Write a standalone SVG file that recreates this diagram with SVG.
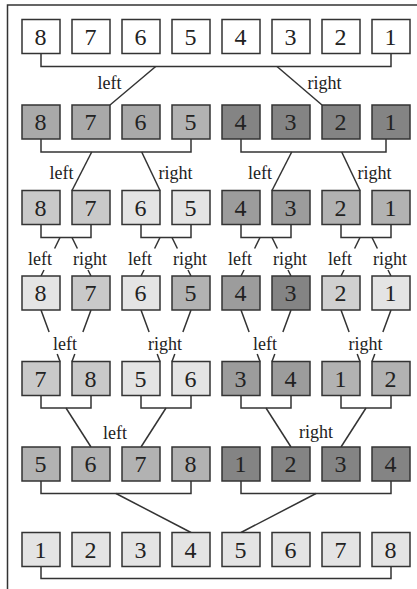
<svg xmlns="http://www.w3.org/2000/svg" width="417" height="589" viewBox="0 0 417 589">
<style>
rect{stroke:#333;stroke-width:1.5}
.w{fill:#ffffff}.a{fill:#a9a9a9}.b{fill:#b2b2b2}.d{fill:#848484}.c{fill:#c9c9c9}.l{fill:#e4e4e4}.m{fill:#9c9c9c}.k{fill:#d0d0d0}
.n{font-family:"Liberation Serif","Times New Roman",serif;font-size:24px;fill:#222;text-anchor:middle}
.t{font-family:"Liberation Serif","Times New Roman",serif;font-size:18px;fill:#222;text-anchor:middle}
#connectors path{fill:none;stroke:#333;stroke-width:1.5}
</style>
<path d="M7.5 589 V5 H417" fill="none" stroke="#333" stroke-width="1.5"/>
<g id="connectors">
<path d="M41 53.5 V66.5 H391 V53.5"/>
<path d="M155.7 66.5 L110 105"/>
<path d="M277 66.5 L322 105"/>
<path d="M41 139 V152 H191 V139"/>
<path d="M241 139 V152 H386 V139"/>
<path d="M91.7 152 L72 190.5"/>
<path d="M141.7 152 L160 190.5"/>
<path d="M291.7 152 L272 190.5"/>
<path d="M341.7 152 L360 190.5"/>
<path d="M41 224.5 V237.5 H91 V224.5"/>
<path d="M141 224.5 V237.5 H191 V224.5"/>
<path d="M241 224.5 V237.5 H291 V224.5"/>
<path d="M341 224.5 V237.5 H391 V224.5"/>
<path d="M60 237.5 L54.6 248.5 M44 270 L41 276"/>
<path d="M72 237.5 L77.4 248.5 M88 270 L91 276"/>
<path d="M160 237.5 L154.6 248.5 M144 270 L141 276"/>
<path d="M172 237.5 L177.4 248.5 M188 270 L191 276"/>
<path d="M260 237.5 L254.6 248.5 M244 270 L241 276"/>
<path d="M272 237.5 L277.4 248.5 M288 270 L291 276"/>
<path d="M360 237.5 L354.6 248.5 M344 270 L341 276"/>
<path d="M372 237.5 L377.4 248.5 M388 270 L391 276"/>
<path d="M41 310 L49.1 332 M57.2 354 L60 361.5"/>
<path d="M91 310 L82.9 332 M74.8 354 L72 361.5"/>
<path d="M141 310 L149.1 332 M157.2 354 L160 361.5"/>
<path d="M191 310 L182.9 332 M174.8 354 L172 361.5"/>
<path d="M241 310 L249.1 332 M257.2 354 L260 361.5"/>
<path d="M291 310 L282.9 332 M274.8 354 L272 361.5"/>
<path d="M341 310 L349.1 332 M357.2 354 L360 361.5"/>
<path d="M391 310 L382.9 332 M374.8 354 L372 361.5"/>
<path d="M41 395.5 V408 H91 V395.5"/>
<path d="M141 395.5 V408 H191 V395.5"/>
<path d="M241 395.5 V408 H291 V395.5"/>
<path d="M341 395.5 V408 H391 V395.5"/>
<path d="M66 408 L91 447"/>
<path d="M166 408 L141 447"/>
<path d="M266 408 L291 447"/>
<path d="M366 408 L341 447"/>
<path d="M41 481 V493.5 H191 V481"/>
<path d="M241 481 V493.5 H391 V481"/>
<path d="M116 493.5 L191 532.5"/>
<path d="M316 493.5 L241 532.5"/>
<path d="M41 566.5 V578.5 H391 V566.5"/>
</g>
<g id="labels">
<text class="t" x="109.5" y="89">left</text>
<text class="t" x="324.5" y="89">right</text>
<text class="t" x="61.5" y="179">left</text>
<text class="t" x="175.5" y="179">right</text>
<text class="t" x="260" y="179">left</text>
<text class="t" x="374.5" y="179">right</text>
<text class="t" x="40" y="265">left</text>
<text class="t" x="90" y="265">right</text>
<text class="t" x="140" y="265">left</text>
<text class="t" x="190" y="265">right</text>
<text class="t" x="240" y="265">left</text>
<text class="t" x="290" y="265">right</text>
<text class="t" x="340" y="265">left</text>
<text class="t" x="390" y="265">right</text>
<text class="t" x="65" y="350">left</text>
<text class="t" x="165" y="350">right</text>
<text class="t" x="265" y="350">left</text>
<text class="t" x="365.5" y="350">right</text>
<text class="t" x="115" y="439">left</text>
<text class="t" x="316" y="438">right</text>
</g>
<g id="r1n1"><rect class="w" x="22" y="19.5" width="38" height="34"/><text class="n" x="40.5" y="44.5">8</text></g>
<g id="r1n2"><rect class="w" x="72" y="19.5" width="38" height="34"/><text class="n" x="90.5" y="44.5">7</text></g>
<g id="r1n3"><rect class="w" x="122" y="19.5" width="38" height="34"/><text class="n" x="140.5" y="44.5">6</text></g>
<g id="r1n4"><rect class="w" x="172" y="19.5" width="38" height="34"/><text class="n" x="190.5" y="44.5">5</text></g>
<g id="r1n5"><rect class="w" x="222" y="19.5" width="38" height="34"/><text class="n" x="240.5" y="44.5">4</text></g>
<g id="r1n6"><rect class="w" x="272" y="19.5" width="38" height="34"/><text class="n" x="290.5" y="44.5">3</text></g>
<g id="r1n7"><rect class="w" x="322" y="19.5" width="38" height="34"/><text class="n" x="340.5" y="44.5">2</text></g>
<g id="r1n8"><rect class="w" x="372" y="19.5" width="38" height="34"/><text class="n" x="390.5" y="44.5">1</text></g>
<g id="r2n1"><rect class="a" x="22" y="105" width="38" height="34"/><text class="n" x="40.5" y="130">8</text></g>
<g id="r2n2"><rect class="a" x="72" y="105" width="38" height="34"/><text class="n" x="90.5" y="130">7</text></g>
<g id="r2n3"><rect class="a" x="122" y="105" width="38" height="34"/><text class="n" x="140.5" y="130">6</text></g>
<g id="r2n4"><rect class="b" x="172" y="105" width="38" height="34"/><text class="n" x="190.5" y="130">5</text></g>
<g id="r2n5"><rect class="d" x="222" y="105" width="38" height="34"/><text class="n" x="240.5" y="130">4</text></g>
<g id="r2n6"><rect class="d" x="272" y="105" width="38" height="34"/><text class="n" x="290.5" y="130">3</text></g>
<g id="r2n7"><rect class="d" x="322" y="105" width="38" height="34"/><text class="n" x="340.5" y="130">2</text></g>
<g id="r2n8"><rect class="d" x="372" y="105" width="38" height="34"/><text class="n" x="390.5" y="130">1</text></g>
<g id="r3n1"><rect class="c" x="22" y="190.5" width="38" height="34"/><text class="n" x="40.5" y="215.5">8</text></g>
<g id="r3n2"><rect class="c" x="72" y="190.5" width="38" height="34"/><text class="n" x="90.5" y="215.5">7</text></g>
<g id="r3n3"><rect class="l" x="122" y="190.5" width="38" height="34"/><text class="n" x="140.5" y="215.5">6</text></g>
<g id="r3n4"><rect class="l" x="172" y="190.5" width="38" height="34"/><text class="n" x="190.5" y="215.5">5</text></g>
<g id="r3n5"><rect class="m" x="222" y="190.5" width="38" height="34"/><text class="n" x="240.5" y="215.5">4</text></g>
<g id="r3n6"><rect class="m" x="272" y="190.5" width="38" height="34"/><text class="n" x="290.5" y="215.5">3</text></g>
<g id="r3n7"><rect class="b" x="322" y="190.5" width="38" height="34"/><text class="n" x="340.5" y="215.5">2</text></g>
<g id="r3n8"><rect class="b" x="372" y="190.5" width="38" height="34"/><text class="n" x="390.5" y="215.5">1</text></g>
<g id="r4n1"><rect class="l" x="22" y="276" width="38" height="34"/><text class="n" x="40.5" y="301">8</text></g>
<g id="r4n2"><rect class="c" x="72" y="276" width="38" height="34"/><text class="n" x="90.5" y="301">7</text></g>
<g id="r4n3"><rect class="l" x="122" y="276" width="38" height="34"/><text class="n" x="140.5" y="301">6</text></g>
<g id="r4n4"><rect class="b" x="172" y="276" width="38" height="34"/><text class="n" x="190.5" y="301">5</text></g>
<g id="r4n5"><rect class="m" x="222" y="276" width="38" height="34"/><text class="n" x="240.5" y="301">4</text></g>
<g id="r4n6"><rect class="d" x="272" y="276" width="38" height="34"/><text class="n" x="290.5" y="301">3</text></g>
<g id="r4n7"><rect class="k" x="322" y="276" width="38" height="34"/><text class="n" x="340.5" y="301">2</text></g>
<g id="r4n8"><rect class="l" x="372" y="276" width="38" height="34"/><text class="n" x="390.5" y="301">1</text></g>
<g id="r5n1"><rect class="c" x="22" y="361.5" width="38" height="34"/><text class="n" x="40.5" y="386.5">7</text></g>
<g id="r5n2"><rect class="c" x="72" y="361.5" width="38" height="34"/><text class="n" x="90.5" y="386.5">8</text></g>
<g id="r5n3"><rect class="l" x="122" y="361.5" width="38" height="34"/><text class="n" x="140.5" y="386.5">5</text></g>
<g id="r5n4"><rect class="l" x="172" y="361.5" width="38" height="34"/><text class="n" x="190.5" y="386.5">6</text></g>
<g id="r5n5"><rect class="m" x="222" y="361.5" width="38" height="34"/><text class="n" x="240.5" y="386.5">3</text></g>
<g id="r5n6"><rect class="m" x="272" y="361.5" width="38" height="34"/><text class="n" x="290.5" y="386.5">4</text></g>
<g id="r5n7"><rect class="b" x="322" y="361.5" width="38" height="34"/><text class="n" x="340.5" y="386.5">1</text></g>
<g id="r5n8"><rect class="b" x="372" y="361.5" width="38" height="34"/><text class="n" x="390.5" y="386.5">2</text></g>
<g id="r6n1"><rect class="b" x="22" y="447" width="38" height="34"/><text class="n" x="40.5" y="472">5</text></g>
<g id="r6n2"><rect class="b" x="72" y="447" width="38" height="34"/><text class="n" x="90.5" y="472">6</text></g>
<g id="r6n3"><rect class="b" x="122" y="447" width="38" height="34"/><text class="n" x="140.5" y="472">7</text></g>
<g id="r6n4"><rect class="b" x="172" y="447" width="38" height="34"/><text class="n" x="190.5" y="472">8</text></g>
<g id="r6n5"><rect class="d" x="222" y="447" width="38" height="34"/><text class="n" x="240.5" y="472">1</text></g>
<g id="r6n6"><rect class="d" x="272" y="447" width="38" height="34"/><text class="n" x="290.5" y="472">2</text></g>
<g id="r6n7"><rect class="d" x="322" y="447" width="38" height="34"/><text class="n" x="340.5" y="472">3</text></g>
<g id="r6n8"><rect class="d" x="372" y="447" width="38" height="34"/><text class="n" x="390.5" y="472">4</text></g>
<g id="r7n1"><rect class="l" x="22" y="532.5" width="38" height="34"/><text class="n" x="40.5" y="557.5">1</text></g>
<g id="r7n2"><rect class="l" x="72" y="532.5" width="38" height="34"/><text class="n" x="90.5" y="557.5">2</text></g>
<g id="r7n3"><rect class="l" x="122" y="532.5" width="38" height="34"/><text class="n" x="140.5" y="557.5">3</text></g>
<g id="r7n4"><rect class="l" x="172" y="532.5" width="38" height="34"/><text class="n" x="190.5" y="557.5">4</text></g>
<g id="r7n5"><rect class="l" x="222" y="532.5" width="38" height="34"/><text class="n" x="240.5" y="557.5">5</text></g>
<g id="r7n6"><rect class="l" x="272" y="532.5" width="38" height="34"/><text class="n" x="290.5" y="557.5">6</text></g>
<g id="r7n7"><rect class="l" x="322" y="532.5" width="38" height="34"/><text class="n" x="340.5" y="557.5">7</text></g>
<g id="r7n8"><rect class="l" x="372" y="532.5" width="38" height="34"/><text class="n" x="390.5" y="557.5">8</text></g>
</svg>
